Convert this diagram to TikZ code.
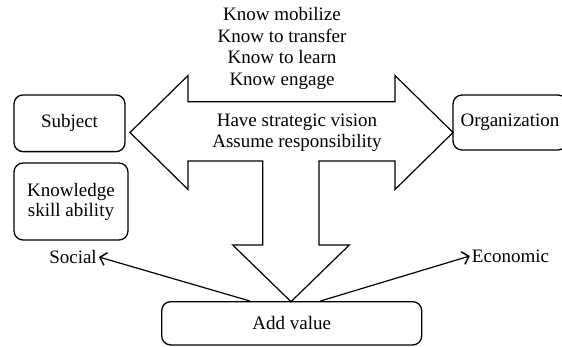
\documentclass[tikz,border=0pt]{standalone}
\usepackage{fontspec}
\setmainfont{Liberation Serif}
\usetikzlibrary{arrows.meta,calc}
\begin{document}
\begin{tikzpicture}[x=1pt,y=-1pt,
  txt/.style={font=\fontsize{19}{21.5}\selectfont, align=center, inner sep=2pt},
  rbox/.style={draw, line width=1.3pt, rounded corners=9pt, txt},
  bigarrow/.style={draw, line width=1.2pt, line join=miter},
  thin/.style={line width=1.2pt, -{Straight Barb[length=6pt,width=13pt,line width=1.5pt]}}
]
\useasboundingbox (0,0) rectangle (562,347);
\clip (0,0) rectangle (562,347);
% big three-way arrow
\draw[bigarrow] (130,132.5) -- (188,75.5) -- (188,101.7) -- (395,101.7) -- (395,75.5)
  -- (453,132.5) -- (395,189.5) -- (395,161) -- (319,161) -- (319,245)
  -- (349.3,245) -- (291,301.7) -- (232.7,245) -- (262.7,245) -- (262.7,161)
  -- (188,161) -- (188,189.5) -- cycle;
% texts
\node[txt] (know) at (282,48.6) {Know mobilize\\Know to transfer\\Know to learn\\Know engage};
\node[txt] (vision) at (297,133) {Have strategic vision\\Assume responsibility};
% boxes
\node[rbox, minimum width=111pt, minimum height=56.7pt] (subject) at (69.5,123.3) {Subject};
\node[rbox, minimum width=114pt, minimum height=77pt, font=\fontsize{19}{20}\selectfont] (ksa) at (71,201.5) {Knowledge\\skill ability};
\node[rbox, minimum width=114pt, minimum height=55pt, inner sep=0pt] (org) at (510,122.5) {Organization};
\node[rbox, minimum width=260pt, minimum height=43.3pt] (av) at (291.7,323.3) {Add value};
\node[txt] (social) at (73,257) {Social};
\node[txt] (econ) at (510.5,256) {Economic};
% connectors
\draw[thin] ($(av.north west)!0.34!(av.north east)$) -- (social.east);
\draw[thin] ($(av.north west)!0.61!(av.north east)$) -- (econ.west);
\end{tikzpicture}
\end{document}
